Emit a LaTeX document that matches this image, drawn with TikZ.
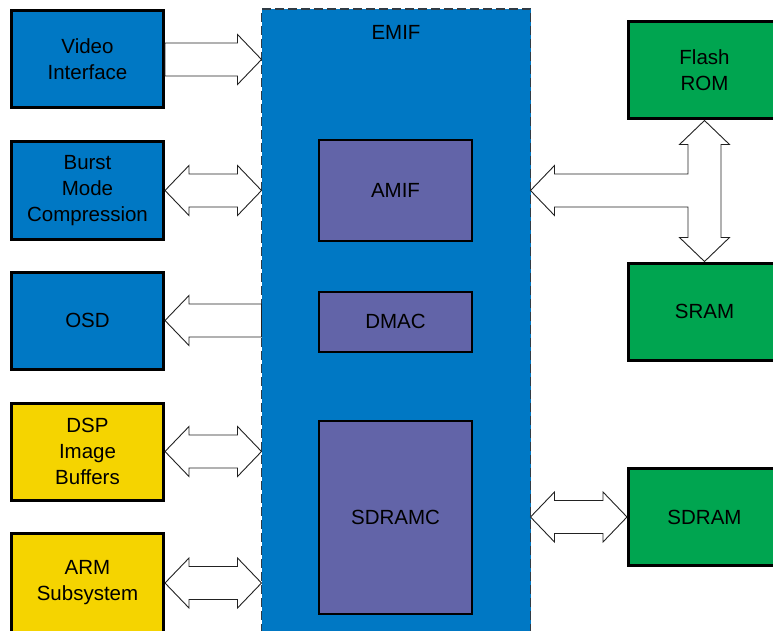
\documentclass[tikz,border=0pt]{standalone}
\usepackage{fontspec}
\setmainfont{Liberation Sans}
\usetikzlibrary{calc}
\definecolor{emifBlue}{HTML}{0078C4}
\definecolor{memGreen}{HTML}{00A550}
\definecolor{dspYellow}{HTML}{F5D400}
\definecolor{ctrlPurple}{HTML}{6264A8}
\definecolor{emifEdge}{HTML}{2F3B45}
\definecolor{arrowInk}{HTML}{222222}
% block arrows, tip at the second point
\newcommand\arrowTo[2]{\draw[blockarrow] let \p1=#1, \p2=#2, \p3=($#2!24pt!#1$) in
  (\x1,\y1+16.5pt) -- (\x3,\y1+16.5pt) -- (\x3,\y1+25pt) -- (\x2,\y1)
  -- (\x3,\y1-25pt) -- (\x3,\y1-16.5pt) -- (\x1,\y1-16.5pt) -- cycle;}
\newcommand\arrowBoth[2]{\draw[blockarrow] let \p1=#1, \p2=#2, \p3=($#2!24pt!#1$), \p4=($#1!24pt!#2$) in
  (\x1,\y1) -- (\x4,\y1+25pt) -- (\x4,\y1+16.5pt) -- (\x3,\y1+16.5pt) -- (\x3,\y1+25pt) -- (\x2,\y1)
  -- (\x3,\y1-25pt) -- (\x3,\y1-16.5pt) -- (\x4,\y1-16.5pt) -- (\x4,\y1-25pt) -- cycle;}
\tikzset{
  blockarrow/.style={draw=arrowInk, fill=white, line width=0.9pt, line join=miter}
}
\begin{document}
\begin{tikzpicture}[x=1pt, y=-1pt,
  unit/.style={draw=black, line width=3pt, minimum width=152pt, minimum height=97pt,
    inner sep=0pt, align=center, font=\fontsize{20.5}{26}\selectfont},
  video/.style={unit, fill=emifBlue},
  dsp/.style={unit, fill=dspYellow},
  memory/.style={unit, fill=memGreen},
  ctrl/.style={draw=black, line width=2pt, fill=ctrlPurple, minimum width=153pt,
    inner sep=0pt, font=\fontsize{20.5}{26}\selectfont}
]
\useasboundingbox (0,0) rectangle (773,631);
\clip (0,0) rectangle (773,631);
\node[draw=emifEdge, dashed, dash pattern=on 9pt off 4pt, line width=1.5pt, fill=emifBlue,
  minimum width=269pt, minimum height=680pt, inner sep=0pt, outer sep=0pt] (emif) at (396,349) {};
\node[font=\fontsize{20.5}{26}\selectfont] (emiflabel) at (396,32) {EMIF};
\node[ctrl, minimum height=100pt] (amif) at (395.5,190.5) {AMIF};
\node[ctrl, minimum height=60pt] (dmac) at (395.5,321.5) {DMAC};
\node[ctrl, minimum height=193pt] (sdramc) at (395.5,517) {SDRAMC};
\node[video] (vid) at (87.5,59.5) {Video\\Interface};
\node[video] (burst) at (87.5,190.5) {Burst\\Mode\\Compression};
\node[video] (osd) at (87.5,320.5) {OSD};
\node[dsp] (dspbuf) at (87.5,451.5) {DSP\\Image\\Buffers};
\node[dsp, minimum height=100pt] (arm) at (87.5,583) {ARM\\Subsystem};
\node[memory] (flash) at (704.5,70.5) {Flash\\ROM};
\node[memory] (sram) at (704.5,311.5) {SRAM};
\node[memory] (sdram) at (704.5,517) {SDRAM};
\arrowTo{(vid.east)}{(emif.west |- vid.east)}
\arrowBoth{(burst.east)}{(emif.west |- burst.east)}
\arrowTo{(emif.west |- osd.east)}{(osd.east)}
\arrowBoth{(dspbuf.east)}{(emif.west |- dspbuf.east)}
\arrowBoth{(arm.east)}{(emif.west |- arm.east)}
\arrowBoth{(emif.east |- sdram.west)}{(sdram.west)}
% T-shaped arrow to flash and sram
\draw[blockarrow] let \p1=(flash.south), \p2=(sram.north), \p3=(emif.east |- amif) in
  (\x3,\y3) -- (\x3+24pt,\y3+25pt) -- (\x3+24pt,\y3+16.5pt) -- (\x1-16.5pt,\y3+16.5pt)
  -- (\x1-16.5pt,\y1-24pt) -- (\x1-25pt,\y1-24pt) -- (\x1,\y1) -- (\x1+25pt,\y1-24pt)
  -- (\x1+16.5pt,\y1-24pt) -- (\x1+16.5pt,\y2+24pt) -- (\x1+25pt,\y2+24pt) -- (\x1,\y2)
  -- (\x1-25pt,\y2+24pt) -- (\x1-16.5pt,\y2+24pt) -- (\x1-16.5pt,\y3-16.5pt)
  -- (\x3+24pt,\y3-16.5pt) -- (\x3+24pt,\y3-25pt) -- cycle;
\end{tikzpicture}
\end{document}
